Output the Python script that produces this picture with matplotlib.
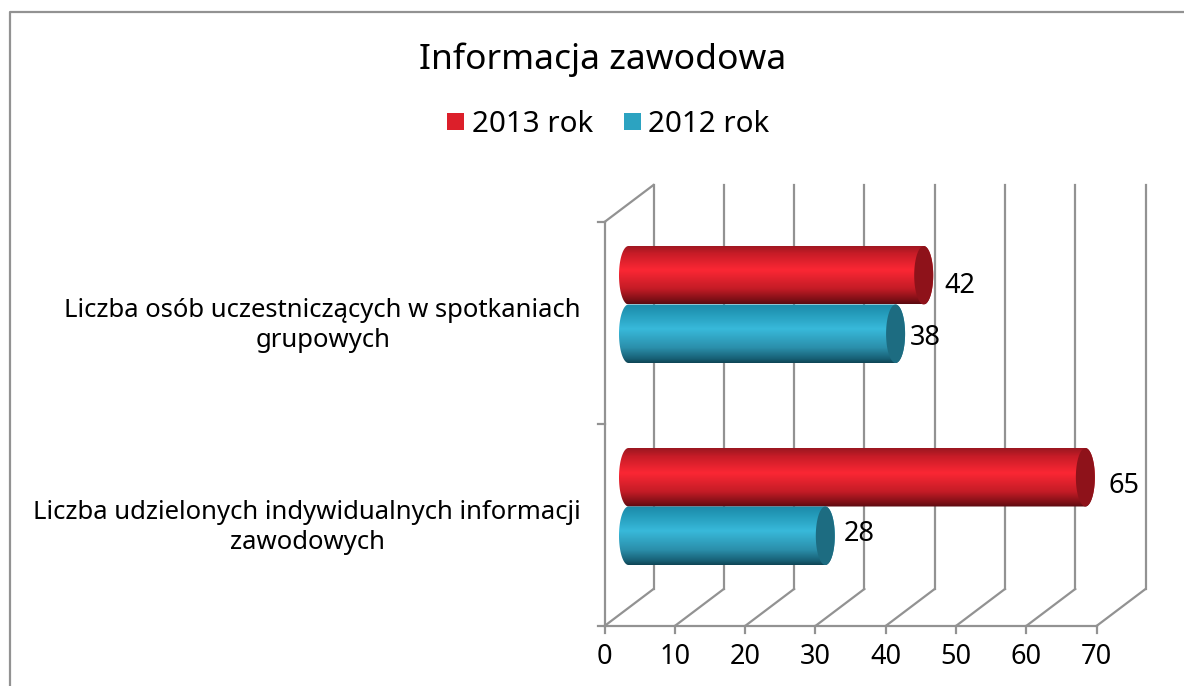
import numpy as np
import matplotlib
matplotlib.use("Agg")
import matplotlib.pyplot as plt
from matplotlib.colors import LinearSegmentedColormap
from matplotlib.patches import PathPatch, Rectangle
from matplotlib.path import Path
from matplotlib.transforms import Affine2D

title = "Informacja zawodowa"
series_names = ["2013 rok", "2012 rok"]
categories = ["Liczba udzielonych indywidualnych informacji\nzawodowych",
              "Liczba osób uczestniczących w spotkaniach\ngrupowych"]
values_2013 = [65, 42]
values_2012 = [28, 38]
x_ticks = [0, 10, 20, 30, 40, 50, 60, 70]

W, H = 1184, 686
GRID = "#929292"
LW = 1.6
plt.rcParams["font.family"] = "Noto Sans"
fig = plt.figure(figsize=(W / 100, H / 100), dpi=100)

L, R, B, T = 604.5, 1096.5, 626, 222
ax = fig.add_axes([L / W, 1 - B / H, (R - L) / W, (B - T) / H])
ax.set_xlim(0, 70)
ax.set_ylim(0, 2)
ax.axis("off")
trans_data = ax.transData
back_t = trans_data + Affine2D().translate(49, 37)
mid_t = trans_data + Affine2D().translate(24, 18.5)


def pixel_line(p0, p1, **kw):
    fig.add_artist(plt.Line2D([p0[0] / W, p1[0] / W], [p0[1] / H, p1[1] / H],
                              color=GRID, lw=LW, zorder=1, **kw))


# walls, floor and ticks
for v in x_ticks:
    ax.plot([v, v], [0, 2], color=GRID, lw=LW, transform=back_t, clip_on=False, zorder=1)
    p0 = trans_data.transform((v, 0))
    pixel_line(p0, back_t.transform((v, 0)))
    pixel_line(p0, (p0[0], p0[1] - 7))
    fig.text(p0[0] / W, (p0[1] - 31) / H, str(v), ha="center", va="center", fontsize=19.5)

ax.plot([0, 70], [0, 0], color=GRID, lw=LW, clip_on=False, zorder=1)
ax.plot([0, 0], [0, 2], color=GRID, lw=LW, clip_on=False, zorder=1)
pixel_line(trans_data.transform((0, 2)), back_t.transform((0, 2)))
for c in [0, 1, 2]:
    p0 = trans_data.transform((0, c))
    pixel_line((p0[0] - 7, p0[1]), p0)

red_cmap = LinearSegmentedColormap.from_list(
    "r", [(0, "#9a1720"), (0.14, "#c71c27"), (0.42, "#fb2734"), (0.74, "#c41c26"),
          (0.93, "#7c0f16"), (1, "#5a0a10")])
teal_cmap = LinearSegmentedColormap.from_list(
    "t", [(0, "#1c8aa8"), (0.14, "#2399b8"), (0.42, "#38b9da"), (0.74, "#2b8fab"),
          (0.93, "#175f74"), (1, "#0e4454")])
grad = np.linspace(0, 1, 256).reshape(-1, 1)

BAR_H = 58.5 / 202
CAP = 9.5 / (492 / 70)


def cylinder(value, yc, cmap, cap_color):
    top, bot = yc + BAR_H / 2, yc - BAR_H / 2
    t = np.linspace(-np.pi / 2, np.pi / 2, 60)
    cx, sy = np.cos(t), np.sin(t)
    right = np.column_stack([value + CAP * cx, yc + BAR_H / 2 * sy])
    left = np.column_stack([-CAP * cx[::-1], yc + BAR_H / 2 * sy[::-1]])
    patch = PathPatch(Path(np.vstack([right, left, right[:1]])), fc="none", ec="none",
                      transform=mid_t)
    ax.add_patch(patch)
    im = ax.imshow(grad, cmap=cmap, aspect="auto", origin="upper", zorder=3,
                   extent=(-CAP, value + CAP, bot, top), transform=mid_t)
    im.set_clip_path(patch)
    cap = np.vstack([right, np.column_stack([value - CAP * cx[::-1], yc + BAR_H / 2 * sy[::-1]]),
                     right[:1]])
    ax.add_patch(PathPatch(Path(cap), fc=cap_color, ec="none", transform=mid_t, zorder=4,
                           clip_on=False))


label_offsets_2013 = [(39, -9), (36.5, -11)]
label_offsets_2012 = [(33.5, 1.5), (29.5, -4.5)]
for i, (a, b) in enumerate(zip(values_2013, values_2012)):
    yc = i + 0.5
    cylinder(a, yc + BAR_H / 2, red_cmap, "#8e121a")
    cylinder(b, yc - BAR_H / 2, teal_cmap, "#1d6c81")
    xa, ya = mid_t.transform((a, yc + BAR_H / 2))
    xb, yb = mid_t.transform((b, yc - BAR_H / 2))
    fig.text((xa + label_offsets_2013[i][0]) / W, (ya + label_offsets_2013[i][1]) / H, str(a),
             ha="center", va="center", fontsize=19.5, zorder=6)
    fig.text((xb + label_offsets_2012[i][0]) / W, (yb + label_offsets_2012[i][1]) / H, str(b),
             ha="center", va="center", fontsize=19.5, zorder=6)

ax.set_xlim(0, 70)
ax.set_ylim(0, 2)

for c, yc in zip(categories, [0.5, 1.5]):
    p = trans_data.transform((0, yc))
    fig.text(581 / W, (p[1] - 2.5) / H, c, ha="right", va="center", multialignment="center",
             fontsize=18.5, linespacing=1.3)

fig.text(603 / W, 1 - 60 / H, title, ha="center", va="center", fontsize=25.5)

# legend
for name, col, xs, xt in zip(series_names, ["#dc1f2a", "#2ca3c1"], [447, 624], [472, 648]):
    fig.add_artist(Rectangle((xs / W, 1 - 130 / H), 17 / W, 17 / H, fc=col, ec="none",
                             transform=fig.transFigure))
    fig.text(xt / W, 1 - 124 / H, name, ha="left", va="center", fontsize=21.3)

# chart frame
fig.add_artist(plt.Line2D([9.5 / W, 9.5 / W, 1], [0, 1 - 11.5 / H, 1 - 11.5 / H],
                          color=GRID, lw=LW))
fig.savefig("out.png", dpi=100)
